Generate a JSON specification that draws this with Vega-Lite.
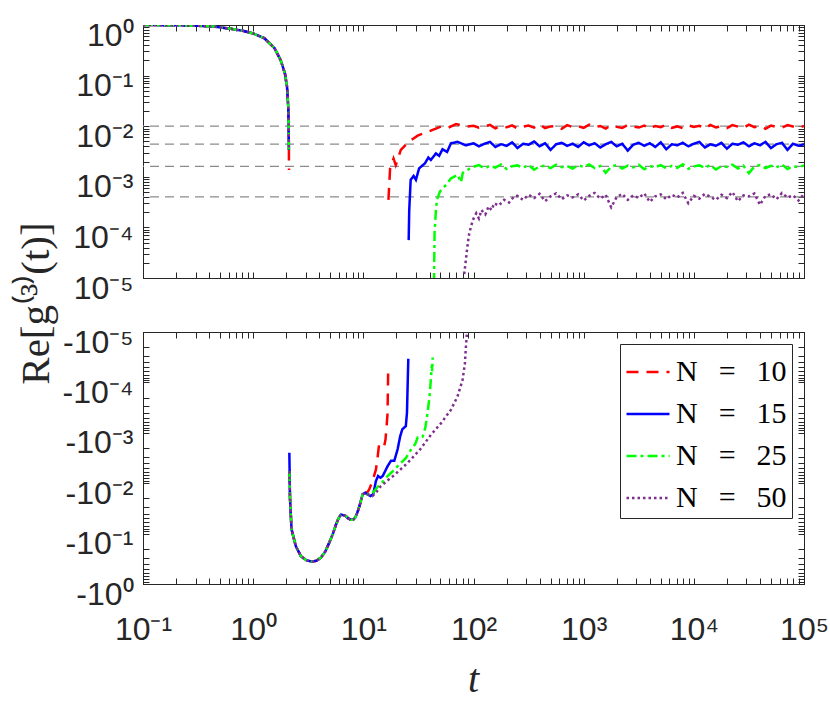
{
"$schema": "https://vega.github.io/schema/vega-lite/v6.json",
"background": "white",
"padding": {"left": 14, "top": 18, "right": 5, "bottom": 0},
"spacing": 54,
"bounds": "flush",
"config": {
  "view": {"stroke": "#262626", "strokeWidth": 1},
  "axis": {"grid": false, "domainColor": "#262626", "domainWidth": 1, "tickColor": "#262626", "tickWidth": 1, "tickSize": -6, "labelColor": "#262626", "labelFont": "Liberation Sans", "labelFontSize": 32, "labelOverlap": false, "labelFlush": false, "labelBound": false, "titleColor": "#262626", "titleFontWeight": "normal"}
},
"datasets": {
"refs": [{"N":"10","level":0.01},{"N":"15","level":0.00444},{"N":"25","level":0.0016},{"N":"50","level":0.0004}],
"upper": [
{"N":"10","seg":"a","t":0.1,"g":0.997},{"N":"10","seg":"a","t":0.15,"g":0.993},{"N":"10","seg":"a","t":0.22,"g":0.985},{"N":"10","seg":"a","t":0.3,"g":0.97},{"N":"10","seg":"a","t":0.44,"g":0.93},{"N":"10","seg":"a","t":0.63,"g":0.84},{"N":"10","seg":"a","t":0.8,"g":0.77},{"N":"10","seg":"a","t":1,"g":0.68},{"N":"10","seg":"a","t":1.26,"g":0.55},{"N":"10","seg":"a","t":1.56,"g":0.35},{"N":"10","seg":"a","t":1.78,"g":0.2},{"N":"10","seg":"a","t":1.94,"g":0.111},{"N":"10","seg":"a","t":2.03,"g":0.06},{"N":"10","seg":"a","t":2.08,"g":0.0245},{"N":"10","seg":"a","t":2.1,"g":0.0098},{"N":"10","seg":"a","t":2.11,"g":0.0034},{"N":"10","seg":"a","t":2.115,"g":0.00136},
{"N":"10","seg":"b","t":16.9,"g":0.00035},{"N":"10","seg":"b","t":17.5,"g":0.00147},{"N":"10","seg":"b","t":18.8,"g":0.0023},{"N":"10","seg":"b","t":19.7,"g":0.0017},{"N":"10","seg":"b","t":21.9,"g":0.0034},{"N":"10","seg":"b","t":26.1,"g":0.005},{"N":"10","seg":"b","t":31.1,"g":0.0065},{"N":"10","seg":"b","t":41,"g":0.0082},{"N":"10","seg":"b","t":50.6,"g":0.0098},{"N":"10","seg":"b","t":58.6,"g":0.0093},{"N":"10","seg":"b","t":69.5,"g":0.011},{"N":"10","seg":"b","t":85,"g":0.0098},
{"N":"10","seg":"b","t":100,"g":0.0102},{"N":"10","seg":"b","t":112,"g":0.0093},{"N":"10","seg":"b","t":126,"g":0.0099},{"N":"10","seg":"b","t":141,"g":0.0106},{"N":"10","seg":"b","t":158,"g":0.0091},{"N":"10","seg":"b","t":178,"g":0.01},{"N":"10","seg":"b","t":200,"g":0.0095},{"N":"10","seg":"b","t":224,"g":0.0104},{"N":"10","seg":"b","t":251,"g":0.009},{"N":"10","seg":"b","t":282,"g":0.0098},{"N":"10","seg":"b","t":316,"g":0.0103},{"N":"10","seg":"b","t":355,"g":0.0094},{"N":"10","seg":"b","t":398,"g":0.0108},{"N":"10","seg":"b","t":447,"g":0.0092},{"N":"10","seg":"b","t":501,"g":0.0099},{"N":"10","seg":"b","t":562,"g":0.0101},{"N":"10","seg":"b","t":631,"g":0.0089},{"N":"10","seg":"b","t":708,"g":0.0105},{"N":"10","seg":"b","t":794,"g":0.0096},{"N":"10","seg":"b","t":891,"g":0.01},
{"N":"10","seg":"b","t":1000,"g":0.0093},{"N":"10","seg":"b","t":1122,"g":0.0107},{"N":"10","seg":"b","t":1259,"g":0.0095},{"N":"10","seg":"b","t":1413,"g":0.0101},{"N":"10","seg":"b","t":1585,"g":0.009},{"N":"10","seg":"b","t":1778,"g":0.0104},{"N":"10","seg":"b","t":1995,"g":0.0097},{"N":"10","seg":"b","t":2239,"g":0.0092},{"N":"10","seg":"b","t":2512,"g":0.0106},{"N":"10","seg":"b","t":2818,"g":0.0098},{"N":"10","seg":"b","t":3162,"g":0.0094},{"N":"10","seg":"b","t":3548,"g":0.0103},{"N":"10","seg":"b","t":3981,"g":0.0089},{"N":"10","seg":"b","t":4467,"g":0.0101},{"N":"10","seg":"b","t":5012,"g":0.0096},{"N":"10","seg":"b","t":5623,"g":0.0108},{"N":"10","seg":"b","t":6310,"g":0.0093},{"N":"10","seg":"b","t":7079,"g":0.0099},{"N":"10","seg":"b","t":7943,"g":0.0091},{"N":"10","seg":"b","t":8913,"g":0.0104},
{"N":"10","seg":"b","t":10000,"g":0.0097},{"N":"10","seg":"b","t":11220,"g":0.0102},{"N":"10","seg":"b","t":12589,"g":0.009},{"N":"10","seg":"b","t":14125,"g":0.0106},{"N":"10","seg":"b","t":15849,"g":0.0095},{"N":"10","seg":"b","t":17783,"g":0.01},{"N":"10","seg":"b","t":19953,"g":0.0092},{"N":"10","seg":"b","t":22387,"g":0.0105},{"N":"10","seg":"b","t":25119,"g":0.0098},{"N":"10","seg":"b","t":28184,"g":0.0093},{"N":"10","seg":"b","t":31623,"g":0.0107},{"N":"10","seg":"b","t":35481,"g":0.0096},{"N":"10","seg":"b","t":39811,"g":0.0101},{"N":"10","seg":"b","t":44668,"g":0.0089},{"N":"10","seg":"b","t":50119,"g":0.0103},{"N":"10","seg":"b","t":56234,"g":0.0097},{"N":"10","seg":"b","t":63096,"g":0.0094},{"N":"10","seg":"b","t":70795,"g":0.0105},{"N":"10","seg":"b","t":79433,"g":0.0099},{"N":"10","seg":"b","t":89125,"g":0.0092},{"N":"10","seg":"b","t":100000,"g":0.0101},
{"N":"15","seg":"a","t":0.1,"g":0.997},{"N":"15","seg":"a","t":0.15,"g":0.993},{"N":"15","seg":"a","t":0.22,"g":0.985},{"N":"15","seg":"a","t":0.3,"g":0.97},{"N":"15","seg":"a","t":0.44,"g":0.93},{"N":"15","seg":"a","t":0.63,"g":0.84},{"N":"15","seg":"a","t":0.8,"g":0.77},{"N":"15","seg":"a","t":1,"g":0.68},{"N":"15","seg":"a","t":1.26,"g":0.55},{"N":"15","seg":"a","t":1.56,"g":0.35},{"N":"15","seg":"a","t":1.78,"g":0.2},{"N":"15","seg":"a","t":1.94,"g":0.111},{"N":"15","seg":"a","t":2.03,"g":0.06},{"N":"15","seg":"a","t":2.08,"g":0.0245},{"N":"15","seg":"a","t":2.1,"g":0.0098},{"N":"15","seg":"a","t":2.11,"g":0.0034},
{"N":"15","seg":"b","t":25.8,"g":0.000056},{"N":"15","seg":"b","t":26.1,"g":0.00022},{"N":"15","seg":"b","t":26.9,"g":0.00087},{"N":"15","seg":"b","t":28.6,"g":0.00104},{"N":"15","seg":"b","t":30,"g":0.00087},{"N":"15","seg":"b","t":32.1,"g":0.00147},{"N":"15","seg":"b","t":36.3,"g":0.00185},{"N":"15","seg":"b","t":38.9,"g":0.0024},{"N":"15","seg":"b","t":41,"g":0.00215},{"N":"15","seg":"b","t":45.6,"g":0.0029},{"N":"15","seg":"b","t":48.8,"g":0.0026},{"N":"15","seg":"b","t":52.3,"g":0.0035},{"N":"15","seg":"b","t":57.6,"g":0.0031},{"N":"15","seg":"b","t":62.4,"g":0.0046},{"N":"15","seg":"b","t":71.7,"g":0.0049},{"N":"15","seg":"b","t":85,"g":0.0042},
{"N":"15","seg":"b","t":100,"g":0.0046},{"N":"15","seg":"b","t":112,"g":0.004},{"N":"15","seg":"b","t":126,"g":0.0045},{"N":"15","seg":"b","t":141,"g":0.0049},{"N":"15","seg":"b","t":158,"g":0.0039},{"N":"15","seg":"b","t":178,"g":0.0044},{"N":"15","seg":"b","t":200,"g":0.0041},{"N":"15","seg":"b","t":224,"g":0.0048},{"N":"15","seg":"b","t":251,"g":0.0037},{"N":"15","seg":"b","t":282,"g":0.0045},{"N":"15","seg":"b","t":316,"g":0.0043},{"N":"15","seg":"b","t":355,"g":0.005},{"N":"15","seg":"b","t":398,"g":0.004},{"N":"15","seg":"b","t":447,"g":0.0046},{"N":"15","seg":"b","t":501,"g":0.0034},{"N":"15","seg":"b","t":562,"g":0.0044},{"N":"15","seg":"b","t":631,"g":0.0047},{"N":"15","seg":"b","t":708,"g":0.0041},{"N":"15","seg":"b","t":794,"g":0.0045},{"N":"15","seg":"b","t":891,"g":0.0039},
{"N":"15","seg":"b","t":1000,"g":0.0048},{"N":"15","seg":"b","t":1122,"g":0.0042},{"N":"15","seg":"b","t":1259,"g":0.0046},{"N":"15","seg":"b","t":1413,"g":0.0038},{"N":"15","seg":"b","t":1585,"g":0.0044},{"N":"15","seg":"b","t":1778,"g":0.0049},{"N":"15","seg":"b","t":1995,"g":0.004},{"N":"15","seg":"b","t":2239,"g":0.0045},{"N":"15","seg":"b","t":2512,"g":0.0033},{"N":"15","seg":"b","t":2818,"g":0.0043},{"N":"15","seg":"b","t":3162,"g":0.0047},{"N":"15","seg":"b","t":3548,"g":0.0041},{"N":"15","seg":"b","t":3981,"g":0.0046},{"N":"15","seg":"b","t":4467,"g":0.0039},{"N":"15","seg":"b","t":5012,"g":0.0048},{"N":"15","seg":"b","t":5623,"g":0.0035},{"N":"15","seg":"b","t":6310,"g":0.0044},{"N":"15","seg":"b","t":7079,"g":0.0042},{"N":"15","seg":"b","t":7943,"g":0.0047},{"N":"15","seg":"b","t":8913,"g":0.004},
{"N":"15","seg":"b","t":10000,"g":0.0045},{"N":"15","seg":"b","t":11220,"g":0.0049},{"N":"15","seg":"b","t":12589,"g":0.0038},{"N":"15","seg":"b","t":14125,"g":0.0044},{"N":"15","seg":"b","t":15849,"g":0.0041},{"N":"15","seg":"b","t":17783,"g":0.0047},{"N":"15","seg":"b","t":19953,"g":0.0036},{"N":"15","seg":"b","t":22387,"g":0.0045},{"N":"15","seg":"b","t":25119,"g":0.0043},{"N":"15","seg":"b","t":28184,"g":0.0048},{"N":"15","seg":"b","t":31623,"g":0.004},{"N":"15","seg":"b","t":35481,"g":0.0046},{"N":"15","seg":"b","t":39811,"g":0.0042},{"N":"15","seg":"b","t":44668,"g":0.0049},{"N":"15","seg":"b","t":50119,"g":0.0037},{"N":"15","seg":"b","t":56234,"g":0.0044},{"N":"15","seg":"b","t":63096,"g":0.0047},{"N":"15","seg":"b","t":70795,"g":0.0034},{"N":"15","seg":"b","t":79433,"g":0.0045},{"N":"15","seg":"b","t":89125,"g":0.0041},{"N":"15","seg":"b","t":100000,"g":0.0044},
{"N":"25","seg":"a","t":0.1,"g":0.997},{"N":"25","seg":"a","t":0.15,"g":0.993},{"N":"25","seg":"a","t":0.22,"g":0.985},{"N":"25","seg":"a","t":0.3,"g":0.97},{"N":"25","seg":"a","t":0.44,"g":0.93},{"N":"25","seg":"a","t":0.63,"g":0.84},{"N":"25","seg":"a","t":0.8,"g":0.77},{"N":"25","seg":"a","t":1,"g":0.68},{"N":"25","seg":"a","t":1.26,"g":0.55},{"N":"25","seg":"a","t":1.56,"g":0.35},{"N":"25","seg":"a","t":1.78,"g":0.2},{"N":"25","seg":"a","t":1.94,"g":0.111},{"N":"25","seg":"a","t":2.03,"g":0.06},{"N":"25","seg":"a","t":2.08,"g":0.0245},{"N":"25","seg":"a","t":2.1,"g":0.0098},{"N":"25","seg":"a","t":2.11,"g":0.0034},
{"N":"25","seg":"b","t":43.8,"g":0.000008},{"N":"25","seg":"b","t":44.3,"g":0.000076},{"N":"25","seg":"b","t":45.6,"g":0.00022},{"N":"25","seg":"b","t":46.6,"g":0.00035},{"N":"25","seg":"b","t":49.5,"g":0.00051},{"N":"25","seg":"b","t":56.2,"g":0.00069},{"N":"25","seg":"b","t":62.4,"g":0.00093},{"N":"25","seg":"b","t":71.7,"g":0.0011},{"N":"25","seg":"b","t":76.9,"g":0.00078},{"N":"25","seg":"b","t":80,"g":0.0012},{"N":"25","seg":"b","t":88,"g":0.00136},{"N":"25","seg":"b","t":95,"g":0.0015},
{"N":"25","seg":"b","t":100,"g":0.00158},{"N":"25","seg":"b","t":112,"g":0.0017},{"N":"25","seg":"b","t":126,"g":0.00147},{"N":"25","seg":"b","t":141,"g":0.00165},{"N":"25","seg":"b","t":158,"g":0.00152},{"N":"25","seg":"b","t":178,"g":0.00175},{"N":"25","seg":"b","t":200,"g":0.00143},{"N":"25","seg":"b","t":224,"g":0.00162},{"N":"25","seg":"b","t":251,"g":0.00168},{"N":"25","seg":"b","t":282,"g":0.0015},{"N":"25","seg":"b","t":316,"g":0.00172},{"N":"25","seg":"b","t":355,"g":0.00138},{"N":"25","seg":"b","t":398,"g":0.0016},{"N":"25","seg":"b","t":447,"g":0.00166},{"N":"25","seg":"b","t":501,"g":0.00149},{"N":"25","seg":"b","t":562,"g":0.00174},{"N":"25","seg":"b","t":631,"g":0.00155},{"N":"25","seg":"b","t":708,"g":0.00163},{"N":"25","seg":"b","t":794,"g":0.00145},{"N":"25","seg":"b","t":891,"g":0.00169},
{"N":"25","seg":"b","t":1000,"g":0.00157},{"N":"25","seg":"b","t":1122,"g":0.00176},{"N":"25","seg":"b","t":1259,"g":0.00148},{"N":"25","seg":"b","t":1413,"g":0.00164},{"N":"25","seg":"b","t":1585,"g":0.0012},{"N":"25","seg":"b","t":1778,"g":0.00159},{"N":"25","seg":"b","t":1995,"g":0.00171},{"N":"25","seg":"b","t":2239,"g":0.00146},{"N":"25","seg":"b","t":2512,"g":0.00167},{"N":"25","seg":"b","t":2818,"g":0.00153},{"N":"25","seg":"b","t":3162,"g":0.00173},{"N":"25","seg":"b","t":3548,"g":0.00141},{"N":"25","seg":"b","t":3981,"g":0.00162},{"N":"25","seg":"b","t":4467,"g":0.00156},{"N":"25","seg":"b","t":5012,"g":0.0017},{"N":"25","seg":"b","t":5623,"g":0.00147},{"N":"25","seg":"b","t":6310,"g":0.00165},{"N":"25","seg":"b","t":7079,"g":0.00151},{"N":"25","seg":"b","t":7943,"g":0.00177},{"N":"25","seg":"b","t":8913,"g":0.00144},
{"N":"25","seg":"b","t":10000,"g":0.00161},{"N":"25","seg":"b","t":11220,"g":0.00168},{"N":"25","seg":"b","t":12589,"g":0.0015},{"N":"25","seg":"b","t":14125,"g":0.00172},{"N":"25","seg":"b","t":15849,"g":0.00139},{"N":"25","seg":"b","t":17783,"g":0.00163},{"N":"25","seg":"b","t":19953,"g":0.00157},{"N":"25","seg":"b","t":22387,"g":0.00174},{"N":"25","seg":"b","t":25119,"g":0.00146},{"N":"25","seg":"b","t":28184,"g":0.00166},{"N":"25","seg":"b","t":31623,"g":0.00118},{"N":"25","seg":"b","t":35481,"g":0.0016},{"N":"25","seg":"b","t":39811,"g":0.00171},{"N":"25","seg":"b","t":44668,"g":0.00148},{"N":"25","seg":"b","t":50119,"g":0.00165},{"N":"25","seg":"b","t":56234,"g":0.00153},{"N":"25","seg":"b","t":63096,"g":0.00176},{"N":"25","seg":"b","t":70795,"g":0.00142},{"N":"25","seg":"b","t":79433,"g":0.00162},{"N":"25","seg":"b","t":89125,"g":0.00155},{"N":"25","seg":"b","t":100000,"g":0.00168},
{"N":"50","seg":"a","t":0.1,"g":0.997},{"N":"50","seg":"a","t":0.15,"g":0.993},{"N":"50","seg":"a","t":0.22,"g":0.985},{"N":"50","seg":"a","t":0.3,"g":0.97},{"N":"50","seg":"a","t":0.44,"g":0.93},{"N":"50","seg":"a","t":0.63,"g":0.84},{"N":"50","seg":"a","t":0.8,"g":0.77},{"N":"50","seg":"a","t":1,"g":0.68},{"N":"50","seg":"a","t":1.26,"g":0.55},{"N":"50","seg":"a","t":1.56,"g":0.35},{"N":"50","seg":"a","t":1.78,"g":0.2},{"N":"50","seg":"a","t":1.94,"g":0.111},{"N":"50","seg":"a","t":2.03,"g":0.06},{"N":"50","seg":"a","t":2.08,"g":0.0245},{"N":"50","seg":"a","t":2.1,"g":0.0098},{"N":"50","seg":"a","t":2.11,"g":0.0034},
{"N":"50","seg":"b","t":82.4,"g":0.000012},{"N":"50","seg":"b","t":85.3,"g":0.000023},{"N":"50","seg":"b","t":88,"g":0.000042},{"N":"50","seg":"b","t":91.4,"g":0.000076},{"N":"50","seg":"b","t":98.6,"g":0.00014},{"N":"50","seg":"b","t":106,"g":0.00019},{"N":"50","seg":"b","t":112,"g":0.00015},{"N":"50","seg":"b","t":118,"g":0.00022},{"N":"50","seg":"b","t":128,"g":0.00018},{"N":"50","seg":"b","t":137,"g":0.00026},{"N":"50","seg":"b","t":146,"g":0.00022},{"N":"50","seg":"b","t":154,"g":0.0003},{"N":"50","seg":"b","t":170,"g":0.00027},{"N":"50","seg":"b","t":190,"g":0.00035},{"N":"50","seg":"b","t":210,"g":0.00031},{"N":"50","seg":"b","t":234,"g":0.00041},
{"N":"50","seg":"b","t":251,"g":0.00042},{"N":"50","seg":"b","t":282,"g":0.00035},{"N":"50","seg":"b","t":316,"g":0.00044},{"N":"50","seg":"b","t":355,"g":0.00038},{"N":"50","seg":"b","t":398,"g":0.00046},{"N":"50","seg":"b","t":447,"g":0.00033},{"N":"50","seg":"b","t":501,"g":0.00041},{"N":"50","seg":"b","t":562,"g":0.00047},{"N":"50","seg":"b","t":631,"g":0.00036},{"N":"50","seg":"b","t":708,"g":0.00043},{"N":"50","seg":"b","t":794,"g":0.00039},{"N":"50","seg":"b","t":891,"g":0.00045},
{"N":"50","seg":"b","t":1000,"g":0.00034},{"N":"50","seg":"b","t":1122,"g":0.00042},{"N":"50","seg":"b","t":1259,"g":0.00048},{"N":"50","seg":"b","t":1413,"g":0.00037},{"N":"50","seg":"b","t":1585,"g":0.00044},{"N":"50","seg":"b","t":1778,"g":0.00025},{"N":"50","seg":"b","t":1995,"g":0.0004},{"N":"50","seg":"b","t":2239,"g":0.00046},{"N":"50","seg":"b","t":2512,"g":0.00035},{"N":"50","seg":"b","t":2818,"g":0.00043},{"N":"50","seg":"b","t":3162,"g":0.00038},{"N":"50","seg":"b","t":3548,"g":0.00047},{"N":"50","seg":"b","t":3981,"g":0.00032},{"N":"50","seg":"b","t":4467,"g":0.00041},{"N":"50","seg":"b","t":5012,"g":0.00045},{"N":"50","seg":"b","t":5623,"g":0.00036},{"N":"50","seg":"b","t":6310,"g":0.00044},{"N":"50","seg":"b","t":7079,"g":0.00039},{"N":"50","seg":"b","t":7943,"g":0.00048},{"N":"50","seg":"b","t":8913,"g":0.0003},
{"N":"50","seg":"b","t":10000,"g":0.00042},{"N":"50","seg":"b","t":11220,"g":0.00037},{"N":"50","seg":"b","t":12589,"g":0.00046},{"N":"50","seg":"b","t":14125,"g":0.0004},{"N":"50","seg":"b","t":15849,"g":0.00035},{"N":"50","seg":"b","t":17783,"g":0.00044},{"N":"50","seg":"b","t":19953,"g":0.00038},{"N":"50","seg":"b","t":22387,"g":0.0005},{"N":"50","seg":"b","t":25119,"g":0.00033},{"N":"50","seg":"b","t":28184,"g":0.00043},{"N":"50","seg":"b","t":31623,"g":0.00041},{"N":"50","seg":"b","t":35481,"g":0.00047},{"N":"50","seg":"b","t":39811,"g":0.00028},{"N":"50","seg":"b","t":44668,"g":0.00042},{"N":"50","seg":"b","t":50119,"g":0.00045},{"N":"50","seg":"b","t":56234,"g":0.00036},{"N":"50","seg":"b","t":63096,"g":0.00048},{"N":"50","seg":"b","t":70795,"g":0.00039},{"N":"50","seg":"b","t":79433,"g":0.00043},{"N":"50","seg":"b","t":89125,"g":0.00034},{"N":"50","seg":"b","t":100000,"g":0.00046}
],
"lower": [
{"N":"10","t":2.13,"absg":0.0058},{"N":"10","t":2.16,"absg":0.02},{"N":"10","t":2.23,"absg":0.083},{"N":"10","t":2.44,"absg":0.178},{"N":"10","t":2.71,"absg":0.28},{"N":"10","t":3.05,"absg":0.34},{"N":"10","t":3.4,"absg":0.36},{"N":"10","t":3.75,"absg":0.345},{"N":"10","t":4.12,"absg":0.3},{"N":"10","t":4.5,"absg":0.23},{"N":"10","t":4.91,"absg":0.151},{"N":"10","t":5.3,"absg":0.1},{"N":"10","t":5.65,"absg":0.066},{"N":"10","t":6,"absg":0.048},{"N":"10","t":6.26,"absg":0.042},{"N":"10","t":6.6,"absg":0.043},{"N":"10","t":6.95,"absg":0.045},{"N":"10","t":7.3,"absg":0.05},{"N":"10","t":7.71,"absg":0.053},{"N":"10","t":8.05,"absg":0.053},{"N":"10","t":8.4,"absg":0.049},{"N":"10","t":8.8,"absg":0.039},{"N":"10","t":9.2,"absg":0.029},{"N":"10","t":9.86,"absg":0.0166},{"N":"10","t":10.4,"absg":0.0155},
{"N":"10","t":10.9,"absg":0.015},{"N":"10","t":11.3,"absg":0.0133},{"N":"10","t":12.1,"absg":0.0091},{"N":"10","t":13,"absg":0.0054},{"N":"10","t":13.4,"absg":0.0034},{"N":"10","t":13.9,"absg":0.0017},{"N":"10","t":14.8,"absg":0.0016},{"N":"10","t":15.5,"absg":0.0018},{"N":"10","t":15.9,"absg":0.00135},{"N":"10","t":16.3,"absg":0.0007},{"N":"10","t":16.6,"absg":0.0004},{"N":"10","t":16.8,"absg":0.00006},
{"N":"15","t":2.13,"absg":0.0025},{"N":"15","t":2.16,"absg":0.02},{"N":"15","t":2.23,"absg":0.083},{"N":"15","t":2.44,"absg":0.178},{"N":"15","t":2.71,"absg":0.28},{"N":"15","t":3.05,"absg":0.34},{"N":"15","t":3.4,"absg":0.36},{"N":"15","t":3.75,"absg":0.345},{"N":"15","t":4.12,"absg":0.3},{"N":"15","t":4.5,"absg":0.23},{"N":"15","t":4.91,"absg":0.151},{"N":"15","t":5.3,"absg":0.1},{"N":"15","t":5.65,"absg":0.066},{"N":"15","t":6,"absg":0.048},{"N":"15","t":6.26,"absg":0.042},{"N":"15","t":6.6,"absg":0.043},{"N":"15","t":6.95,"absg":0.045},{"N":"15","t":7.3,"absg":0.05},{"N":"15","t":7.71,"absg":0.053},{"N":"15","t":8.05,"absg":0.053},{"N":"15","t":8.4,"absg":0.049},{"N":"15","t":8.8,"absg":0.039},{"N":"15","t":9.2,"absg":0.029},{"N":"15","t":9.86,"absg":0.0166},{"N":"15","t":10.4,"absg":0.0155},
{"N":"15","t":10.9,"absg":0.0166},{"N":"15","t":11.6,"absg":0.018},{"N":"15","t":12.3,"absg":0.0165},{"N":"15","t":13,"absg":0.0091},{"N":"15","t":13.6,"absg":0.0072},{"N":"15","t":14.3,"absg":0.0078},{"N":"15","t":15,"absg":0.0072},{"N":"15","t":16.6,"absg":0.0046},{"N":"15","t":17.8,"absg":0.0036},{"N":"15","t":19.1,"absg":0.0036},{"N":"15","t":20.5,"absg":0.0021},{"N":"15","t":21.6,"absg":0.00117},{"N":"15","t":22.6,"absg":0.00085},{"N":"15","t":24.3,"absg":0.00074},{"N":"15","t":24.9,"absg":0.0004},{"N":"15","t":25.1,"absg":0.00019},{"N":"15","t":25.6,"absg":0.000034},
{"N":"25","t":2.13,"absg":0.0058},{"N":"25","t":2.16,"absg":0.02},{"N":"25","t":2.23,"absg":0.083},{"N":"25","t":2.44,"absg":0.178},{"N":"25","t":2.71,"absg":0.28},{"N":"25","t":3.05,"absg":0.34},{"N":"25","t":3.4,"absg":0.36},{"N":"25","t":3.75,"absg":0.345},{"N":"25","t":4.12,"absg":0.3},{"N":"25","t":4.5,"absg":0.23},{"N":"25","t":4.91,"absg":0.151},{"N":"25","t":5.3,"absg":0.1},{"N":"25","t":5.65,"absg":0.066},{"N":"25","t":6,"absg":0.048},{"N":"25","t":6.26,"absg":0.042},{"N":"25","t":6.6,"absg":0.043},{"N":"25","t":6.95,"absg":0.045},{"N":"25","t":7.3,"absg":0.05},{"N":"25","t":7.71,"absg":0.053},{"N":"25","t":8.05,"absg":0.053},{"N":"25","t":8.4,"absg":0.049},{"N":"25","t":8.8,"absg":0.039},{"N":"25","t":9.2,"absg":0.029},{"N":"25","t":9.86,"absg":0.0166},{"N":"25","t":10.4,"absg":0.0155},
{"N":"25","t":10.9,"absg":0.0166},{"N":"25","t":11.5,"absg":0.0175},{"N":"25","t":12.5,"absg":0.0145},{"N":"25","t":13.5,"absg":0.0118},{"N":"25","t":14.4,"absg":0.0105},{"N":"25","t":15.5,"absg":0.0085},{"N":"25","t":16.6,"absg":0.0072},{"N":"25","t":18.5,"absg":0.0058},{"N":"25","t":20.5,"absg":0.0046},{"N":"25","t":22.3,"absg":0.0038},{"N":"25","t":24.3,"absg":0.0032},{"N":"25","t":26,"absg":0.0025},{"N":"25","t":28,"absg":0.0019},{"N":"25","t":29.5,"absg":0.0017},{"N":"25","t":31.1,"absg":0.00125},{"N":"25","t":32.1,"absg":0.00128},{"N":"25","t":34.5,"absg":0.0012},{"N":"25","t":36.5,"absg":0.0008},{"N":"25","t":38.3,"absg":0.0004},{"N":"25","t":40,"absg":0.00018},{"N":"25","t":41,"absg":0.000087},{"N":"25","t":41.9,"absg":0.000045},{"N":"25","t":42.2,"absg":0.00006},{"N":"25","t":42.6,"absg":0.000032},
{"N":"50","t":2.13,"absg":0.0058},{"N":"50","t":2.16,"absg":0.02},{"N":"50","t":2.23,"absg":0.083},{"N":"50","t":2.44,"absg":0.178},{"N":"50","t":2.71,"absg":0.28},{"N":"50","t":3.05,"absg":0.34},{"N":"50","t":3.4,"absg":0.36},{"N":"50","t":3.75,"absg":0.345},{"N":"50","t":4.12,"absg":0.3},{"N":"50","t":4.5,"absg":0.23},{"N":"50","t":4.91,"absg":0.151},{"N":"50","t":5.3,"absg":0.1},{"N":"50","t":5.65,"absg":0.066},{"N":"50","t":6,"absg":0.048},{"N":"50","t":6.26,"absg":0.042},{"N":"50","t":6.6,"absg":0.043},{"N":"50","t":6.95,"absg":0.045},{"N":"50","t":7.3,"absg":0.05},{"N":"50","t":7.71,"absg":0.053},{"N":"50","t":8.05,"absg":0.053},{"N":"50","t":8.4,"absg":0.049},{"N":"50","t":8.8,"absg":0.039},{"N":"50","t":9.2,"absg":0.029},{"N":"50","t":9.86,"absg":0.0166},{"N":"50","t":10.4,"absg":0.0155},
{"N":"50","t":10.9,"absg":0.0166},{"N":"50","t":12.1,"absg":0.018},{"N":"50","t":13,"absg":0.0155},{"N":"50","t":14.4,"absg":0.0115},{"N":"50","t":16.6,"absg":0.0088},{"N":"50","t":19.1,"absg":0.0069},{"N":"50","t":22,"absg":0.0052},{"N":"50","t":25.1,"absg":0.004},{"N":"50","t":28,"absg":0.0031},{"N":"50","t":33,"absg":0.0021},{"N":"50","t":41,"absg":0.0011},{"N":"50","t":50.6,"absg":0.00065},{"N":"50","t":62.4,"absg":0.00035},{"N":"50","t":71.6,"absg":0.00019},{"N":"50","t":79.6,"absg":0.000089},{"N":"50","t":83.5,"absg":0.000042},{"N":"50","t":85.3,"absg":0.00002},{"N":"50","t":87.1,"absg":0.0000107},{"N":"50","t":88,"absg":0.000009}
]
},
"vconcat": [
{
 "width": 661, "height": 253,
 "layer": [
  {"data": {"name": "refs"}, "mark": {"type": "rule", "color": "#8c8c8c", "strokeDash": [9, 6], "strokeWidth": 1.2},
   "encoding": {"y": {"field": "level", "type": "quantitative", "scale": {"type": "log", "domain": [0.00001, 1]}, "axis": null}}},
  {"data": {"name": "upper"}, "mark": {"type": "line", "clip": true, "strokeWidth": 2.5, "strokeCap": "butt"},
   "encoding": {
    "x": {"field": "t", "type": "quantitative", "scale": {"type": "log", "domain": [0.1, 100000]},
          "axis": {"orient": "bottom", "labels": false, "title": null, "values": [0.1,0.2,0.3,0.4,0.5,0.6,0.7,0.8,0.9,1,2,3,4,5,6,7,8,9,10,20,30,40,50,60,70,80,90,100,200,300,400,500,600,700,800,900,1000,2000,3000,4000,5000,6000,7000,8000,9000,10000,20000,30000,40000,50000,60000,70000,80000,90000,100000]}},
    "y": {"field": "g", "type": "quantitative", "scale": {"type": "log", "domain": [0.00001, 1]},
          "axis": {"orient": "left", "values": [0.00001,0.00002,0.00003,0.00004,0.00005,0.00006,0.00007,0.00008,0.00009,0.0001,0.0002,0.0003,0.0004,0.0005,0.0006,0.0007,0.0008,0.0009,0.001,0.002,0.003,0.004,0.005,0.006,0.007,0.008,0.009,0.01,0.02,0.03,0.04,0.05,0.06,0.07,0.08,0.09,0.1,0.2,0.3,0.4,0.5,0.6,0.7,0.8,0.9,1],
                   "labelExpr": "datum.value==1?'10⁰':datum.value==0.1?'10⁻¹':datum.value==0.01?'10⁻²':datum.value==0.001?'10⁻³':datum.value==0.0001?'10⁻⁴':datum.value==0.00001?'10⁻⁵':''",
                   "labelBaseline": "alphabetic", "labelOffset": 20, "labelPadding": 16,
                   "title": "Re[g⁽³⁾(t)]", "titleFont": "Liberation Serif", "titleFontSize": 41, "titleAngle": 270, "titleX": -95, "titleY": 278, "titleAlign": "center", "titleBaseline": "alphabetic"}},
    "color": {"field": "N", "type": "nominal", "scale": {"domain": ["10","15","25","50"], "range": ["#ff0000","#0000ff","#00ff00","#7e2f8e"]}, "legend": null},
    "strokeDash": {"field": "N", "type": "nominal", "scale": {"domain": ["10","15","25","50"], "range": [[12,8],[1,0],[10,4,3,4],[2.5,3]]}, "legend": null},
    "detail": {"field": "seg", "type": "nominal"}
   }},
  {"data": {"name": "upper"}, "mark": {"type": "point", "opacity": 0},
   "encoding": {
    "x": {"field": "t", "type": "quantitative", "scale": {"type": "log", "domain": [0.1, 100000]},
          "axis": {"orient": "top", "labels": false, "title": null, "values": [0.1,0.2,0.3,0.4,0.5,0.6,0.7,0.8,0.9,1,2,3,4,5,6,7,8,9,10,20,30,40,50,60,70,80,90,100,200,300,400,500,600,700,800,900,1000,2000,3000,4000,5000,6000,7000,8000,9000,10000,20000,30000,40000,50000,60000,70000,80000,90000,100000]}},
    "y": {"field": "g", "type": "quantitative", "scale": {"type": "log", "domain": [0.00001, 1]},
          "axis": {"orient": "right", "labels": false, "title": null, "values": [0.00001,0.00002,0.00003,0.00004,0.00005,0.00006,0.00007,0.00008,0.00009,0.0001,0.0002,0.0003,0.0004,0.0005,0.0006,0.0007,0.0008,0.0009,0.001,0.002,0.003,0.004,0.005,0.006,0.007,0.008,0.009,0.01,0.02,0.03,0.04,0.05,0.06,0.07,0.08,0.09,0.1,0.2,0.3,0.4,0.5,0.6,0.7,0.8,0.9,1]}}
   }}
 ],
 "resolve": {"axis": {"x": "independent", "y": "independent"}}
},
{
 "width": 661, "height": 252,
 "layer": [
  {"data": {"name": "lower"}, "mark": {"type": "line", "clip": true, "strokeWidth": 2.5, "strokeCap": "butt"},
   "encoding": {
    "x": {"field": "t", "type": "quantitative", "scale": {"type": "log", "domain": [0.1, 100000]},
          "axis": {"orient": "bottom", "values": [0.1,0.2,0.3,0.4,0.5,0.6,0.7,0.8,0.9,1,2,3,4,5,6,7,8,9,10,20,30,40,50,60,70,80,90,100,200,300,400,500,600,700,800,900,1000,2000,3000,4000,5000,6000,7000,8000,9000,10000,20000,30000,40000,50000,60000,70000,80000,90000,100000],
                   "labelExpr": "datum.value==0.1?'10⁻¹':datum.value==1?'10⁰':datum.value==10?'10¹':datum.value==100?'10²':datum.value==1000?'10³':datum.value==10000?'10⁴':datum.value==100000?'10⁵':''",
                   "labelBaseline": "alphabetic", "labelPadding": 61,
                   "title": "t", "titleFont": "Liberation Serif", "titleFontStyle": "italic", "titleFontSize": 40, "titleX": 330, "titleY": 107, "titleAlign": "center", "titleBaseline": "alphabetic"}},
    "y": {"field": "absg", "type": "quantitative", "scale": {"type": "log", "domain": [0.00001, 1], "reverse": true},
          "axis": {"orient": "left", "values": [0.00001,0.00002,0.00003,0.00004,0.00005,0.00006,0.00007,0.00008,0.00009,0.0001,0.0002,0.0003,0.0004,0.0005,0.0006,0.0007,0.0008,0.0009,0.001,0.002,0.003,0.004,0.005,0.006,0.007,0.008,0.009,0.01,0.02,0.03,0.04,0.05,0.06,0.07,0.08,0.09,0.1,0.2,0.3,0.4,0.5,0.6,0.7,0.8,0.9,1],
                   "labelExpr": "datum.value==1?'-10⁰':datum.value==0.1?'-10⁻¹':datum.value==0.01?'-10⁻²':datum.value==0.001?'-10⁻³':datum.value==0.0001?'-10⁻⁴':datum.value==0.00001?'-10⁻⁵':''",
                   "labelBaseline": "alphabetic", "labelOffset": 20, "labelPadding": 16, "title": null}},
    "color": {"field": "N", "type": "nominal", "scale": {"domain": ["10","15","25","50"], "range": ["#ff0000","#0000ff","#00ff00","#7e2f8e"]},
              "legend": {"orient": "top-right", "offset": 12, "title": null, "labelFont": "Liberation Serif", "labelFontSize": 30, "labelColor": "black", "labelExpr": "'N\u2002\u2009=\u2002\u2009' + datum.label", "symbolType": "stroke", "symbolSize": 1849, "symbolStrokeWidth": 2.5, "strokeColor": "#262626", "fillColor": "white", "padding": 5, "rowPadding": 4, "labelOffset": 5, "labelLimit": 0}},
    "strokeDash": {"field": "N", "type": "nominal", "scale": {"domain": ["10","15","25","50"], "range": [[12,8],[1,0],[10,4,3,4],[2.5,3]]}}
   }},
  {"data": {"name": "lower"}, "mark": {"type": "point", "opacity": 0},
   "encoding": {
    "x": {"field": "t", "type": "quantitative", "scale": {"type": "log", "domain": [0.1, 100000]},
          "axis": {"orient": "top", "labels": false, "title": null, "values": [0.1,0.2,0.3,0.4,0.5,0.6,0.7,0.8,0.9,1,2,3,4,5,6,7,8,9,10,20,30,40,50,60,70,80,90,100,200,300,400,500,600,700,800,900,1000,2000,3000,4000,5000,6000,7000,8000,9000,10000,20000,30000,40000,50000,60000,70000,80000,90000,100000]}},
    "y": {"field": "absg", "type": "quantitative", "scale": {"type": "log", "domain": [0.00001, 1], "reverse": true},
          "axis": {"orient": "right", "labels": false, "title": null, "values": [0.00001,0.00002,0.00003,0.00004,0.00005,0.00006,0.00007,0.00008,0.00009,0.0001,0.0002,0.0003,0.0004,0.0005,0.0006,0.0007,0.0008,0.0009,0.001,0.002,0.003,0.004,0.005,0.006,0.007,0.008,0.009,0.01,0.02,0.03,0.04,0.05,0.06,0.07,0.08,0.09,0.1,0.2,0.3,0.4,0.5,0.6,0.7,0.8,0.9,1]}}
   }}
 ],
 "resolve": {"axis": {"x": "independent", "y": "independent"}}
}
],
"resolve": {"scale": {"color": "independent", "strokeDash": "independent"}, "legend": {"color": "independent", "strokeDash": "independent"}}
}
